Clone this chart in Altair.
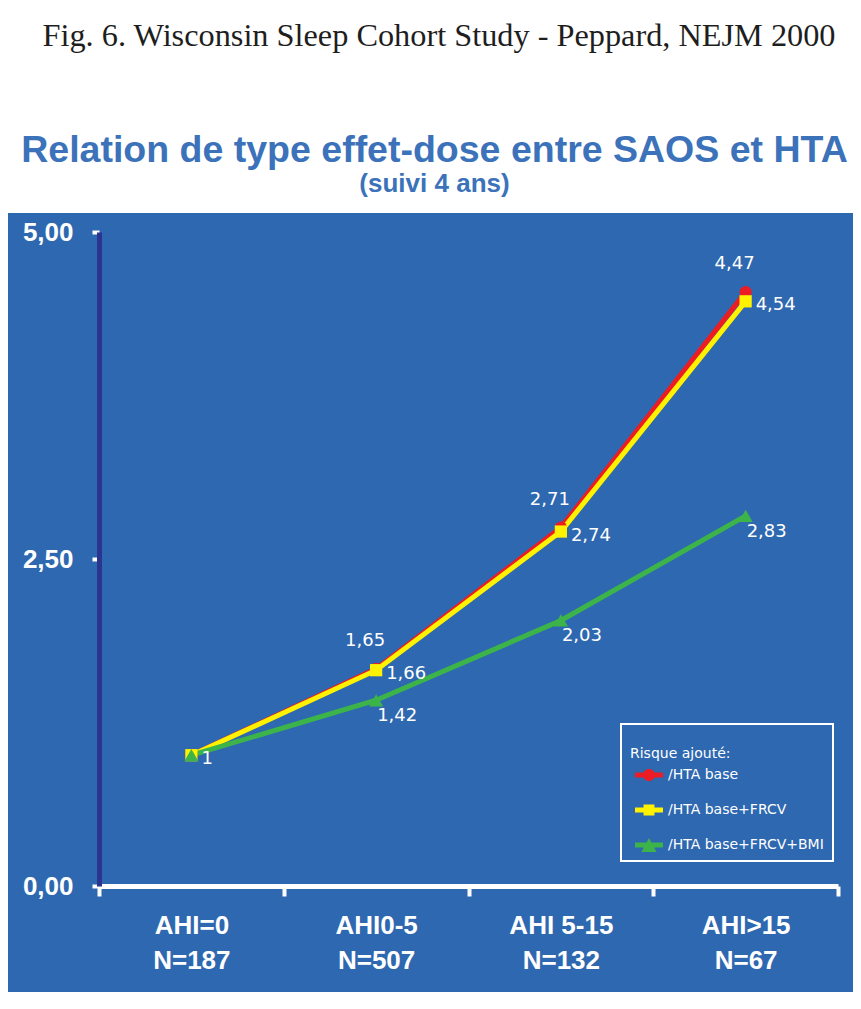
import altair as alt
import pandas as pd

# ---------------- data ----------------
categories = ["AHI=0\nN=187", "AHI0-5\nN=507", "AHI 5-15\nN=132", "AHI>15\nN=67"]
series_names = ["/HTA base", "/HTA base+FRCV", "/HTA base+FRCV+BMI"]
red_values = [1.00, 1.66, 2.74, 4.54]
yellow_values = [1.00, 1.65, 2.71, 4.47]
green_values = [1.00, 1.42, 2.03, 2.83]
upper_labels = ["", "1,65", "2,71", "4,47"]
lower_labels = ["1", "1,66", "2,74", "4,54"]
green_labels = ["", "1,42", "2,03", "2,83"]
y_ticks = [0, 2.5, 5]
header_text = ["Fig. 6. Wisconsin Sleep Cohort Study - Peppard, NEJM 2000"]
title_text = "Relation de type effet-dose entre SAOS et HTA"
subtitle_text = "(suivi 4 ans)"
legend_title = ["", "Risque ajouté:"]

# ---------------- styles ----------------
PANEL = "#2e68b0"
NAVY = "#2b3590"
TITLE_BLUE = "#3b72ba"
RED = "#ec1c24"
YELLOW = "#fff200"
GREEN = "#3cb449"
colors = [RED, YELLOW, GREEN]
shapes = ["circle", "square", "triangle-up"]
sizes = [150, 150, 200]
legend_paths = [
    "M-1,-0.18L1,-0.18L1,0.18L-1,0.18Z M0.43,0A0.43,0.43 0 1,1 -0.43,0A0.43,0.43 0 1,1 0.43,0Z",
    "M-1,-0.18L1,-0.18L1,0.18L-1,0.18Z M-0.39,-0.39L0.39,-0.39L0.39,0.39L-0.39,0.39Z",
    "M-1,-0.18L1,-0.18L1,0.18L-1,0.18Z M0,-0.5L0.54,0.5L-0.54,0.5Z",
]
W, H = 739, 654
BOLD = "Liberation Sans"

series_values = [red_values, yellow_values, green_values]
rows = []
for s, vals in zip(series_names, series_values):
    for i, c in enumerate(categories):
        rows.append({"cat": c, "series": s, "value": vals[i]})
df = pd.DataFrame(rows)

df_up = pd.DataFrame({"cat": categories, "value": red_values, "lab": upper_labels})
df_low = pd.DataFrame({"cat": categories, "value": yellow_values, "lab": lower_labels})
df_green = pd.DataFrame({"cat": categories, "value": green_values, "lab": green_labels})

x_enc = alt.X(
    "cat:N",
    scale=alt.Scale(type="band", domain=categories, paddingInner=0, paddingOuter=0),
    bandPosition=0.5,
    axis=alt.Axis(
        title=None,
        labelExpr="split(datum.label, '\\n')",
        labelFont=BOLD,
        labelFontSize=26,
        labelFontWeight="bold",
        labelColor="white",
        labelLineHeight=35,
        labelPadding=16,
        labelAngle=0,
        domainColor="white",
        domainWidth=5,
        tickColor="white",
        tickWidth=4,
        tickSize=10,
        tickBand="extent",
        grid=False,
        zindex=1,
    ),
)
y_enc = alt.Y(
    "value:Q",
    scale=alt.Scale(domain=[0, 5], nice=False, zero=True),
    axis=alt.Axis(
        title=None,
        values=y_ticks,
        labelExpr="replace(format(datum.value, '.2f'), '.', ',')",
        labelFont=BOLD,
        labelFontSize=26,
        labelFontWeight="bold",
        labelColor="white",
        labelPadding=19,
        domainColor=NAVY,
        domainWidth=5,
        tickColor="white",
        tickWidth=4,
        tickSize=7,
        grid=False,
        zindex=1,
    ),
)

panel = alt.Chart(pd.DataFrame({"k": [0]})).mark_rect(color=PANEL).encode(
    x=alt.value(-93), x2=alt.value(W + 16), y=alt.value(-19), y2=alt.value(H + 118)
)

header = alt.Chart(pd.DataFrame({"t": header_text})).mark_text(
    font="Liberation Serif", fontSize=32.3, color="#1e1e1e", align="center", baseline="alphabetic"
).encode(text="t:N", x=alt.value(340), y=alt.value(-186))

layers = [panel, header]
for s, c in zip(series_names, colors):
    d = df[df.series == s]
    layers.append(alt.Chart(d).mark_line(color=c, strokeWidth=5).encode(x=x_enc, y=y_enc))
for s, c, sh, sz in zip(series_names, colors, shapes, sizes):
    d = df[df.series == s]
    layers.append(
        alt.Chart(d).mark_point(shape=sh, filled=True, color=c, size=sz, opacity=1).encode(x=x_enc, y=y_enc)
    )

leg = alt.Legend(
    title=legend_title,
    orient="none",
    legendX=522,
    legendY=492,
    direction="vertical",
    fillColor=PANEL,
    strokeColor="white",
    padding=9,
    titleFont="DejaVu Sans",
    titleFontSize=14,
    titleFontWeight="normal",
    titleColor="white",
    titleLineHeight=14,
    titlePadding=0,
    labelFont="DejaVu Sans",
    labelFontSize=14,
    labelColor="white",
    labelOffset=5,
    labelLimit=300,
    symbolSize=784,
    symbolOffset=5,
    symbolOpacity=1,
    symbolStrokeWidth=0,
    rowPadding=14,
    zindex=1,
)
legend_layer = alt.Chart(df).mark_point(filled=True, opacity=0, size=784).encode(
    x=x_enc,
    y=y_enc,
    color=alt.Color("series:N", scale=alt.Scale(domain=series_names, range=colors), legend=leg),
    shape=alt.Shape("series:N", scale=alt.Scale(domain=series_names, range=legend_paths), legend=leg),
)
layers.append(legend_layer)

txt = dict(font="DejaVu Sans", fontSize=18, color="white", baseline="middle")
layers.append(alt.Chart(df_up).mark_text(align="center", dx=-11, dy=-28, **txt).encode(x=x_enc, y=y_enc, text="lab:N"))
layers.append(alt.Chart(df_low).mark_text(align="left", dx=10, dy=4, **txt).encode(x=x_enc, y=y_enc, text="lab:N"))
layers.append(alt.Chart(df_green).mark_text(align="left", dx=1, dy=16, **txt).encode(x=x_enc, y=y_enc, text="lab:N"))

chart = alt.layer(*layers).properties(
    width=W,
    height=H,
    title=alt.TitleParams(
        text=title_text,
        subtitle=subtitle_text,
        anchor="middle",
        frame="group",
        dx=-34,
        offset=-177,
        font=BOLD,
        fontSize=37.5,
        fontWeight="bold",
        color=TITLE_BLUE,
        subtitleFont=BOLD,
        subtitleFontSize=26,
        subtitleFontWeight="bold",
        subtitleColor=TITLE_BLUE,
        subtitlePadding=2,
    ),
    autosize=alt.AutoSizeParams(type="none"),
    padding={"left": 91, "top": 224, "right": 15, "bottom": 106},
    background="white",
).configure_view(stroke=None).configure_legend(strokeWidth=2)

chart.save("out.html", embed_options={"renderer": "svg", "actions": False})
